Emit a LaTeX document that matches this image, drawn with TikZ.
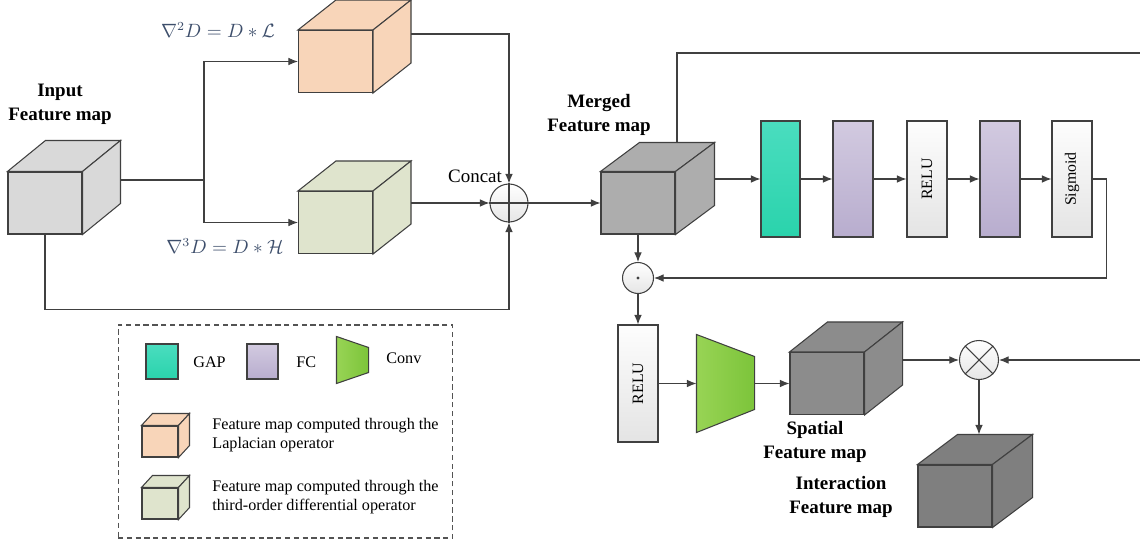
\documentclass[tikz,border=0pt]{standalone}
\usepackage{fontspec}
\setmainfont{Liberation Serif}
\usetikzlibrary{arrows.meta,shadows}

\definecolor{linecol}{HTML}{404040}
\definecolor{ingray}{HTML}{D9D9D9}
\definecolor{lapcol}{HTML}{F8D5B9}
\definecolor{todcol}{HTML}{DFE4CD}
\definecolor{mrggray}{HTML}{ADADAD}
\definecolor{spagray}{HTML}{8C8C8C}
\definecolor{intgray}{HTML}{7F7F7F}
\definecolor{gaptop}{HTML}{4ADDBF}
\definecolor{gapbot}{HTML}{2AD3AC}
\definecolor{fctop}{HTML}{D2CAE0}
\definecolor{fcbot}{HTML}{B8ADCE}
\definecolor{acttop}{HTML}{FDFDFD}
\definecolor{actbot}{HTML}{E4E4E4}
\definecolor{convl}{HTML}{98D455}
\definecolor{convr}{HTML}{7CC43A}
\definecolor{mathcol}{HTML}{3D4E6B}

\newcommand{\cubeback}[4]{%
  \filldraw[fill=#4] (#1.north west) -- ++(#2,#3)
    -- ([shift={(#2,#3)}]#1.north east) -- (#1.north east) -- cycle;
  \filldraw[fill=#4] (#1.north east) -- ([shift={(#2,#3)}]#1.north east)
    -- ([shift={(#2,#3)}]#1.south east) -- (#1.south east) -- cycle;}

\tikzset{
  cubefront/.style={draw=linecol, inner sep=0pt, minimum width=1.48cm, minimum height=1.24cm},
  layerbox/.style={draw=linecol, inner sep=0pt, minimum width=0.8cm, minimum height=2.32cm,
    drop shadow={opacity=0.25, shadow xshift=0.8pt, shadow yshift=-0.8pt}},
  gapbox/.style={layerbox, top color=gaptop, bottom color=gapbot},
  fcbox/.style={layerbox, top color=fctop, bottom color=fcbot},
  actbox/.style={layerbox, top color=acttop, bottom color=actbot, font=\fontsize{9}{10}\selectfont},
  opcirc/.style={circle, draw=linecol, inner sep=0pt, top color=white, bottom color=black!10},
  lbl/.style={align=center, font=\fontsize{10.8}{13.6}\selectfont\bfseries},
  txt/.style={font=\fontsize{10.8}{13}\selectfont},
  ltxt/.style={align=left, font=\fontsize{9.2}{11}\selectfont},
  mathlbl/.style={text=mathcol, font=\fontsize{10.5}{12}\selectfont},
  legendbox/.style={draw=linecol!90, dash pattern=on 3pt off 2pt, inner sep=0pt}
}

\begin{document}
\begin{tikzpicture}[x=0.02cm, y=-0.02cm, >={Latex[length=5.5pt,width=4.4pt]},
  line width=0.6pt, color=linecol, every node/.append style={text=black}]
  \useasboundingbox (0,0) rectangle (1140,544);

  \node[cubefront, fill=ingray] (in) at (45,203) {};
  \node[cubefront, fill=lapcol] (lap) at (335.5,61.5) {};
  \node[cubefront, fill=todcol] (tod) at (335.5,222.5) {};
  \node[opcirc, minimum size=0.76cm] (cat) at (509,203) {};
  \node[cubefront, fill=mrggray] (mrg) at (638,203) {};
  \node[gapbox, minimum width=0.78cm] (gap) at (780.5,179) {};
  \node[fcbox] (fc1) at (853,179) {};
  \node[actbox] (relu) at (927,179) {\rotatebox{90}{RELU}};
  \node[fcbox] (fc2) at (1000,179) {};
  \node[actbox] (sig) at (1072,179) {\rotatebox{90}{Sigmoid}};
  \node[opcirc, minimum size=0.62cm] (dot) at (638,278) {};
  \node[actbox, minimum height=2.34cm] (relu2) at (638,383.5) {\rotatebox{90}{RELU}};
  \node[inner sep=0pt, minimum width=1.14cm, minimum height=1.94cm] (conv) at (725.5,383.5) {};
  \node[cubefront, fill=spagray] (spa) at (827,383.5) {};
  \node[opcirc, minimum size=0.78cm] (mul) at (979,360) {};
  \node[cubefront, fill=intgray] (int) at (955,496) {};

  \cubeback{in}{38}{-31}{ingray}
  \cubeback{lap}{38}{-30}{lapcol}
  \cubeback{tod}{38}{-30}{todcol}
  \cubeback{mrg}{39}{-29}{mrggray}
  \cubeback{spa}{38}{-30}{spagray}
  \cubeback{int}{40}{-30}{intgray}

  \draw[left color=convl, right color=convr] (conv.north west)
    -- ([shift={(0,22)}]conv.north east) -- ([shift={(0,-23)}]conv.south east)
    -- (conv.south west) -- cycle;

  \draw (cat.north) -- (cat.south) (cat.west) -- (cat.east);
  \fill (dot.center) circle (0.9pt);
  \draw (mul.north west) -- (mul.south east) (mul.north east) -- (mul.south west);

  \node[lbl] (inlbl) at (60,104) {Input\\Feature map};
  \node[lbl] (mrglbl) at (599,115) {Merged\\Feature map};
  \node[lbl] (spalbl) at (815,442) {Spatial\\Feature map};
  \node[lbl] (intlbl) at (841,497) {Interaction\\Feature map};
  \node[txt] (catlbl) at (475,176) {Concat};
  \node[mathlbl] (laplbl) at (218,30) {$\nabla^2 D = D * \mathcal{L}$};
  \node[mathlbl] (todlbl) at (225,246) {$\nabla^3 D = D * \mathcal{H}$};

  \coordinate (br) at (204,180);
  \draw ([shift={(38,0)}]in.east |- br) -- (br);
  \draw[->] (br) |- (lap.west);
  \draw[->] (br) |- (tod.west);
  \draw[->] ([shift={(38,4)}]lap.north east) -| (cat.north);
  \draw[->] ([shift={(38,0)}]tod.east |- cat.west) -- (cat.west);
  \draw[->] (in.south) -- ++(0,75) -| (cat.south);
  \draw[->] (cat.east) -- (mrg.west);

  \coordinate (topend) at (1140,53);
  \draw ([shift={(39,-29)}]mrg.north) |- (topend);
  \draw[->] ([shift={(39,0)}]mrg.east |- gap.west) -- (gap.west);
  \draw[->] (gap) -- (fc1);
  \draw[->] (fc1) -- (relu);
  \draw[->] (relu) -- (fc2);
  \draw[->] (fc2) -- (sig);
  \draw[->] (sig.east) -- ++(14,0) |- (dot.east);
  \draw[->] (mrg.south) -- (dot.north);
  \draw[->] (dot.south) -- (relu2.north);
  \draw[->] (relu2.east) -- (conv.west);
  \draw[->] (conv.east) -- (spa.west);
  \draw[->] ([shift={(38,0)}]spa.east |- mul.west) -- (mul.west);
  \coordinate (rtend) at (1140,360);
  \draw[->] (rtend) -- (mul.east);
  \coordinate (inttop) at ([shift={(0,-30)}]int.north);
  \draw[->] (mul.south) -- (mul.south |- inttop);

  \node[legendbox, minimum width=6.7cm, minimum height=4.26cm] (legend) at (285.5,431.5) {};
  \node[gapbox, minimum width=0.64cm, minimum height=0.7cm] (lgap) at (162,361.5) {};
  \node[ltxt, anchor=west] (lgaptxt) at (187,362) {GAP};
  \node[fcbox, minimum width=0.62cm, minimum height=0.7cm] (lfc) at (262.5,361.5) {};
  \node[ltxt, anchor=west] (lfctxt) at (290,362) {FC};
  \node[inner sep=0pt, minimum width=0.62cm, minimum height=0.92cm] (lconv) at (352.5,360) {};
  \draw[left color=convl, right color=convr] (lconv.north west)
    -- ([shift={(0,11)}]lconv.north east) -- ([shift={(0,-11)}]lconv.south east)
    -- (lconv.south west) -- cycle;
  \node[ltxt, anchor=west] (lconvtxt) at (380,358) {Conv};
  \node[cubefront, minimum width=0.72cm, minimum height=0.62cm, fill=lapcol] (llap) at (160,441.5) {};
  \cubeback{llap}{11}{-12}{lapcol}
  \node[cubefront, minimum width=0.72cm, minimum height=0.62cm, fill=todcol] (ltod) at (160,503.5) {};
  \cubeback{ltod}{11}{-12}{todcol}
  \node[ltxt, anchor=west] (llaptxt) at (206,435) {Feature map computed through the\\Laplacian operator};
  \node[ltxt, anchor=west] (ltodtxt) at (206,497) {Feature map computed through the\\third-order differential operator};
\end{tikzpicture}
\end{document}
